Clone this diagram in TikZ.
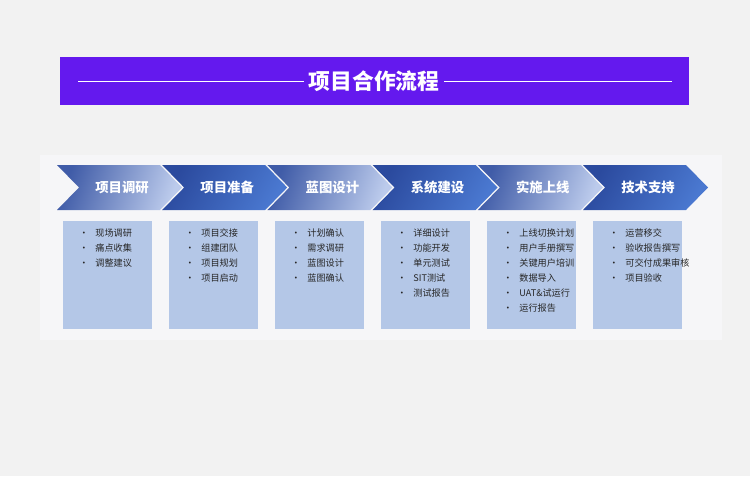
\documentclass[tikz,border=0pt]{standalone}
\usepackage{fontspec}
\setmainfont{Noto Sans CJK SC}
\usetikzlibrary{positioning}
\definecolor{bgGray}{HTML}{F2F2F2}
\definecolor{panelGray}{HTML}{F6F6F8}
\definecolor{titleViolet}{HTML}{6419EE}
\definecolor{chevDark}{HTML}{2B4A9E}
\definecolor{chevMid}{HTML}{4A78D0}
\definecolor{chevLight}{HTML}{BCCBEC}
\definecolor{boxBlue}{HTML}{B4C7E7}
\tikzset{
  stepbox/.style={fill=boxBlue, draw=none},
  steplabel/.style={text=white, font=\fontsize{9.5}{11}\selectfont\bfseries},
  item/.style={anchor=west, font=\fontsize{6.5}{8}\selectfont, text=black!85, inner sep=0pt},
  darkchev/.style={left color=chevDark, right color=chevMid, shading angle=60},
  lightchev/.style={left color=chevDark!90, right color=chevLight, shading angle=70}
}
\begin{document}
\begin{tikzpicture}[x=0.025cm, y=-0.025cm, line join=round]
  \fill[bgGray] (0,0) rectangle (750,476);
  \useasboundingbox (0,0) rectangle (750,476);
  \fill[panelGray] (40,155) rectangle (722,340);
  % title bar
  \fill[titleViolet] (60,57) rectangle (689,105);
  \node[text=white, font=\fontsize{15.5}{18}\selectfont\bfseries] (title) at (374,81) {项目合作流程};
  \draw[white, line width=0.5pt] (78,81) -- (title.west);
  \draw[white, line width=0.5pt] (title.east) -- (672,81);
  % chevrons
  \foreach \i/\lbl/\sty in {0/项目调研/lightchev, 1/项目准备/darkchev, 2/蓝图设计/lightchev,
                             3/系统建设/darkchev, 4/实施上线/lightchev, 5/技术支持/darkchev} {
    \pgfmathsetmacro{\xo}{57+105.2*\i}
    \shade[\sty] (\xo,165) -- ++(103,0) -- ++(22,22.5) -- ++(-22,22.5) -- ++(-103,0) -- ++(22,-22.5) -- cycle;
    \node[steplabel] (step\i) at (\xo+65,187.5) {\lbl};
  }
  % boxes
  \foreach \i/\items in {0/{现场调研,痛点收集,调整建议},
                         1/{项目交接,组建团队,项目规划,项目启动},
                         2/{计划确认,需求调研,蓝图设计,蓝图确认},
                         3/{详细设计,功能开发,单元测试,SIT测试,测试报告},
                         4/{上线切换计划,用户手册撰写,关键用户培训,数据导入,UAT\&试运行,运行报告},
                         5/{运营移交,验收报告撰写,可交付成果审核,项目验收}} {
    \pgfmathsetmacro{\xb}{63+106*\i}
    \fill[stepbox] (\xb,221) rectangle ++(89,108);
    \foreach \t [count=\k from 0] in \items {
      \node[item] (item\i-\k) at (\xb+16,233+15*\k) {•\hspace{5pt}\t};
    }
  }
\end{tikzpicture}
\end{document}
